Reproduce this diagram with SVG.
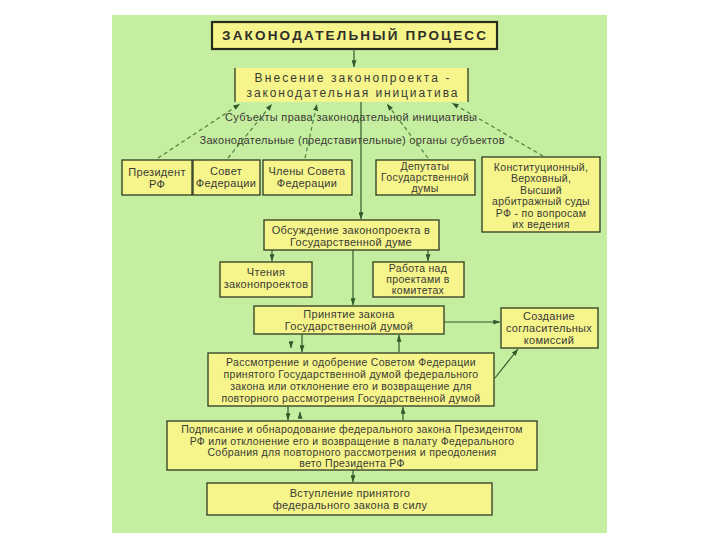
<svg xmlns="http://www.w3.org/2000/svg" width="720" height="540" viewBox="0 0 720 540">
<style>
.box{fill:#f5f58c;stroke:#2e3a22;stroke-width:1.3}
.t{font-family:"Liberation Sans",Arial,sans-serif;font-size:11px;fill:#3a3a35;text-anchor:middle;letter-spacing:0.3px}
.s{font-size:10.5px}
.c{stroke:#2f5a2a;stroke-width:1.2;fill:none}
.d{stroke:#4f7f42;stroke-width:1.2;fill:none;stroke-dasharray:4 3}
</style>
<defs>
<marker id="arr" viewBox="0 0 8 6" markerWidth="7" markerHeight="5" refX="8" refY="3" orient="auto" markerUnits="userSpaceOnUse">
<path d="M0,0 L8,3 L0,6 z" fill="#2f5a2a"/>
</marker>
</defs>
<rect x="0" y="0" width="720" height="540" fill="#ffffff"/>
<rect x="112" y="15" width="495" height="518" fill="#c6eea0"/>

<g id="title">
<rect x="212" y="22" width="285" height="27" fill="#f5f58c" stroke="#2a2a1a" stroke-width="2.2"/>
<text x="354" y="40" class="t" style="font-size:13.5px;font-weight:bold;fill:#2e2e2a;letter-spacing:0" textLength="264" lengthAdjust="spacing">ЗАКОНОДАТЕЛЬНЫЙ ПРОЦЕСС</text>
</g>

<g id="initiative">
<rect x="235" y="68" width="233" height="34" fill="#f5f58c"/>
<line x1="235" y1="68" x2="235" y2="102" stroke="#2e3a22" stroke-width="1.3"/>
<line x1="468" y1="68" x2="468" y2="102" stroke="#2e3a22" stroke-width="1.3"/>
<text x="352" y="82" class="t" style="font-size:12px;letter-spacing:0" textLength="195" lengthAdjust="spacing">Внесение законопроекта -</text>
<text x="352" y="97" class="t" style="font-size:12px;letter-spacing:0" textLength="211" lengthAdjust="spacing">законодательная инициатива</text>
</g>

<g id="label1">
<text x="351" y="121" class="t" style="letter-spacing:0" textLength="252" lengthAdjust="spacing">Субъекты права законодательной инициативы</text>
</g>
<g id="label2">
<text x="352" y="144" class="t" style="letter-spacing:0" textLength="305" lengthAdjust="spacing">Законодательные (представительные) органы субъектов</text>
</g>

<g id="president">
<rect class="box" x="122" y="160" width="70" height="35"/>
<text x="157" y="176" class="t">Президент</text>
<text x="157" y="188" class="t">РФ</text>
</g>
<g id="sovet">
<rect class="box" x="193" y="160" width="67" height="35"/>
<text x="226" y="175" class="t">Совет</text>
<text x="226" y="187" class="t">Федерации</text>
</g>
<g id="chleny">
<rect class="box" x="263" y="160" width="89" height="35"/>
<text x="307" y="175" class="t">Члены Совета</text>
<text x="307" y="187" class="t">Федерации</text>
</g>
<g id="deputaty">
<rect class="box" x="376" y="160" width="99" height="35"/>
<text x="425" y="170" class="t s">Депутаты</text>
<text x="425" y="181" class="t s">Государственной</text>
<text x="425" y="192" class="t s">думы</text>
</g>
<g id="sudy">
<rect class="box" x="482" y="157" width="118" height="75"/>
<text x="541" y="171" class="t s">Конституционный,</text>
<text x="541" y="182" class="t s">Верховный,</text>
<text x="541" y="194" class="t s">Высший</text>
<text x="541" y="205" class="t s">арбитражный  суды</text>
<text x="541" y="217" class="t s">РФ - по вопросам</text>
<text x="541" y="228" class="t s">их ведения</text>
</g>

<g id="obsuzhdenie">
<rect class="box" x="264" y="220" width="175" height="30"/>
<text x="351" y="234" class="t">Обсуждение законопроекта в</text>
<text x="351" y="246" class="t">Государственной думе</text>
</g>
<g id="chteniya">
<rect class="box" x="220" y="262" width="92" height="35"/>
<text x="266" y="276" class="t">Чтения</text>
<text x="266" y="288" class="t">законопроектов</text>
</g>
<g id="rabota">
<rect class="box" x="373" y="262" width="91" height="35"/>
<text x="418" y="272" class="t s">Работа над</text>
<text x="418" y="283" class="t s">проектами в</text>
<text x="418" y="294" class="t s">комитетах</text>
</g>
<g id="prinyatie">
<rect class="box" x="254" y="306" width="190" height="28"/>
<text x="349" y="318" class="t">Принятие закона</text>
<text x="349" y="330" class="t">Государственной думой</text>
</g>
<g id="sozdanie">
<rect class="box" x="501" y="308" width="97" height="40"/>
<text x="549" y="320" class="t">Создание</text>
<text x="549" y="332" class="t">согласительных</text>
<text x="549" y="344" class="t">комиссий</text>
</g>
<g id="rassmotrenie">
<rect class="box" x="208" y="353" width="286" height="53"/>
<text x="351" y="366" class="t s">Рассмотрение и одобрение Советом Федерации</text>
<text x="351" y="378" class="t s">принятого Государственной думой федерального</text>
<text x="351" y="390" class="t s">закона или отклонение его и возвращение для</text>
<text x="351" y="402" class="t s">повторного рассмотрения Государственной думой</text>
</g>
<g id="podpisanie">
<rect class="box" x="167" y="421" width="370" height="49"/>
<text x="352" y="433" class="t s">Подписание и обнародование федерального закона Президентом</text>
<text x="352" y="445" class="t s">РФ или отклонение его и возвращение в палату Федерального</text>
<text x="352" y="456" class="t s">Собрания для повторного рассмотрения и преодоления</text>
<text x="352" y="467" class="t s">вето Президента РФ</text>
</g>
<g id="vstuplenie">
<rect class="box" x="207" y="483" width="285" height="32"/>
<text x="350" y="497" class="t">Вступление принятого</text>
<text x="350" y="509" class="t">федерального закона в силу</text>
</g>

<g id="connectors">
<line class="c" x1="354" y1="49" x2="354" y2="67" marker-end="url(#arr)"/>
<line class="c" x1="361" y1="102" x2="361" y2="219" marker-end="url(#arr)"/>
<line class="d" x1="158" y1="158" x2="240" y2="104" marker-end="url(#arr)"/>
<line class="d" x1="228" y1="158" x2="272" y2="104" marker-end="url(#arr)"/>
<line class="d" x1="305" y1="158" x2="317" y2="104" marker-end="url(#arr)"/>
<line class="d" x1="428" y1="158" x2="387" y2="104" marker-end="url(#arr)"/>
<line class="d" x1="543" y1="156" x2="452" y2="103" marker-end="url(#arr)"/>
<line class="c" x1="272" y1="250" x2="272" y2="261" marker-end="url(#arr)"/>
<line class="c" x1="428" y1="250" x2="428" y2="261" marker-end="url(#arr)"/>
<line class="c" x1="353" y1="250" x2="353" y2="305" marker-end="url(#arr)"/>
<line class="c" x1="444" y1="322" x2="500" y2="322" marker-end="url(#arr)"/>
<line class="c" x1="302" y1="334" x2="302" y2="352" marker-end="url(#arr)"/>
<line class="c" x1="291" y1="342" x2="291" y2="348" marker-end="url(#arr)"/>
<line class="c" x1="399" y1="352" x2="399" y2="335" marker-end="url(#arr)"/>
<line class="c" x1="495" y1="378" x2="518" y2="349" marker-end="url(#arr)"/>
<line class="c" x1="288" y1="406" x2="288" y2="420" marker-end="url(#arr)"/>
<line class="c" x1="300" y1="418" x2="300" y2="412" marker-end="url(#arr)"/>
<line class="c" x1="403" y1="420" x2="403" y2="407" marker-end="url(#arr)"/>
<line class="c" x1="353" y1="470" x2="353" y2="482" marker-end="url(#arr)"/>
</g>
</svg>
